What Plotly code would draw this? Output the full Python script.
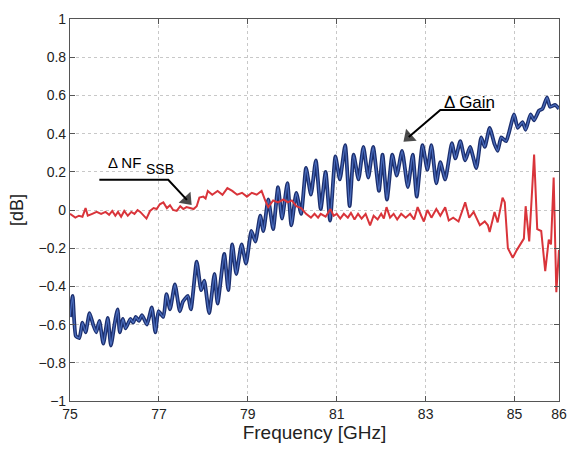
import plotly.graph_objects as go

# Delta Gain (blue) readings
gain_f = [75.00, 75.06, 75.13, 75.21, 75.28, 75.35, 75.44, 75.52, 75.59, 75.66, 75.75, 75.85, 75.92,
          76.00, 76.07, 76.12, 76.19, 76.25, 76.36, 76.42, 76.48, 76.55, 76.62, 76.73, 76.84, 76.92,
          76.99, 77.10, 77.17, 77.25, 77.36, 77.47, 77.54, 77.65, 77.72, 77.85, 77.95, 78.02, 78.13,
          78.25, 78.32, 78.47, 78.56, 78.65, 78.74, 78.86, 78.96, 79.08, 79.17, 79.28, 79.35, 79.46,
          79.57, 79.68, 79.77, 79.89, 79.98, 80.09, 80.20, 80.31, 80.42, 80.53, 80.64, 80.75, 80.85,
          80.97, 81.07, 81.19, 81.29, 81.38, 81.49, 81.60, 81.71, 81.82, 81.95, 82.03, 82.13, 82.25,
          82.35, 82.47, 82.60, 82.71, 82.80, 82.93, 83.04, 83.13, 83.24, 83.33, 83.44, 83.59, 83.67,
          83.78, 83.89, 84.00, 84.14, 84.25, 84.33, 84.44, 84.55, 84.62, 84.70, 84.81, 84.88, 84.99,
          85.07, 85.18, 85.25, 85.36, 85.44, 85.55, 85.63, 85.73, 85.80, 85.91, 86.00]
gain_db = [-0.56, -0.45, -0.66, -0.67, -0.59, -0.64, -0.54, -0.60, -0.64, -0.58, -0.70, -0.565, -0.71,
           -0.60, -0.52, -0.64, -0.57, -0.62, -0.57, -0.59, -0.56, -0.58, -0.55, -0.60, -0.51, -0.64,
           -0.53, -0.56, -0.44, -0.52, -0.39, -0.53, -0.48, -0.45, -0.52, -0.27, -0.42, -0.37, -0.54,
           -0.335, -0.49, -0.23, -0.42, -0.18, -0.335, -0.18, -0.28, -0.11, -0.165, -0.03, -0.11, 0.055,
           -0.10, 0.12, -0.045, 0.14, -0.08, 0.09, -0.02, 0.22, 0.08, 0.26, 0.005, 0.20, -0.055,
           0.28, 0.16, 0.34, 0.02, 0.29, 0.16, 0.33, 0.17, 0.33, 0.10, 0.29, 0.055, 0.29,
           0.18, 0.31, 0.12, 0.29, 0.07, 0.34, 0.21, 0.34, 0.14, 0.25, 0.16, 0.35, 0.27,
           0.36, 0.26, 0.33, 0.22, 0.38, 0.33, 0.43, 0.345, 0.31, 0.38, 0.36, 0.41, 0.50,
           0.43, 0.46, 0.42, 0.50, 0.47, 0.52, 0.53, 0.59, 0.54, 0.55, 0.53]

# Delta NF_SSB (red) readings
nf_f = [75.00, 75.05, 75.12, 75.20, 75.28, 75.35, 75.40, 75.50, 75.60, 75.70, 75.80, 75.88, 75.95,
        76.02, 76.08, 76.15, 76.22, 76.30, 76.38, 76.45, 76.52, 76.58, 76.65, 76.72, 76.80, 76.88,
        76.95, 77.02, 77.10, 77.18, 77.25, 77.32, 77.40, 77.48, 77.55, 77.62, 77.70, 77.78, 77.85,
        77.91, 78.00, 78.05, 78.10, 78.20, 78.32, 78.43, 78.54, 78.65, 78.76, 78.87, 78.98, 79.09,
        79.20, 79.31, 79.39, 79.46, 79.57, 79.68, 79.80, 79.90, 79.99, 80.09, 80.20, 80.31, 80.42,
        80.50, 80.58, 80.64, 80.75, 80.86, 80.93, 81.00, 81.08, 81.16, 81.25, 81.32, 81.40, 81.48,
        81.56, 81.65, 81.75, 81.83, 81.92, 82.00, 82.06, 82.12, 82.20, 82.28, 82.36, 82.45, 82.55,
        82.65, 82.74, 82.82, 82.90, 82.96, 83.04, 83.13, 83.24, 83.33, 83.44, 83.52, 83.62, 83.74,
        83.89, 83.98, 84.08, 84.22, 84.33, 84.40, 84.44, 84.55, 84.62, 84.73, 84.78, 84.85, 84.96,
        85.05, 85.21, 85.25, 85.33, 85.44, 85.51, 85.60, 85.69, 85.77, 85.82, 85.88, 85.94, 86.00]
nf_db = [-0.02, -0.03, -0.04, -0.03, -0.035, 0.01, -0.03, -0.02, -0.01, -0.02, -0.01, -0.025, -0.005,
         -0.03, -0.01, -0.035, -0.005, -0.03, -0.01, -0.02, 0.0, -0.01, -0.025, -0.045, -0.005, 0.01,
         0.005, 0.03, 0.04, 0.01, 0.025, 0.0, -0.005, 0.02, 0.005, 0.015, 0.01, 0.005, 0.02,
         0.065, 0.07, 0.06, 0.10, 0.08, 0.10, 0.08, 0.115, 0.10, 0.08, 0.09, 0.07, 0.09,
         0.08, 0.10, 0.05, 0.015, 0.05, 0.04, 0.055, 0.04, 0.05, 0.02, 0.01, -0.02, -0.04,
         -0.02, -0.04, -0.02, -0.035, 0.005, -0.03, -0.02, -0.045, -0.02, -0.04, -0.015, -0.05, -0.02,
         -0.045, -0.02, -0.08, -0.03, -0.05, -0.02, -0.045, 0.015, -0.04, -0.02, -0.05, -0.02, -0.04,
         -0.02, -0.05, 0.015, -0.03, -0.06, 0.0, -0.04, 0.005, -0.03, 0.015, -0.055, -0.04, -0.06,
         0.04, -0.04, -0.01, -0.08, -0.06, -0.08, -0.115, -0.01, -0.065, 0.065, 0.04, -0.20, -0.25,
         -0.21, -0.15, 0.02, -0.165, 0.29, -0.10, -0.11, -0.32, -0.155, -0.18, 0.17, -0.43, -0.21]

x_ticks = [75, 77, 79, 81, 83, 85, 86]
y_ticks = [-1, -0.8, -0.6, -0.4, -0.2, 0, 0.2, 0.4, 0.6, 0.8, 1]
y_labels = ["\u22121", "\u22120.8", "\u22120.6", "\u22120.4", "\u22120.2", "0",
            "0.2", "0.4", "0.6", "0.8", "1"]

# annotation leader paths (label -> pointed spot)
nf_leader_f = [75.66, 77.21, 77.63]
nf_leader_db = [0.158, 0.158, 0.053]
gain_leader_f = [84.46, 83.33, 82.62]
gain_leader_db = [0.524, 0.524, 0.382]

FONT = "Liberation Sans, Arial, sans-serif"
TXT = "#222"

fig = go.Figure()
fig.add_trace(go.Scatter(x=gain_f, y=gain_db, mode="lines",
                         line=dict(color="#1c2f6e", width=3.8, shape="spline", smoothing=0.5),
                         showlegend=False, hoverinfo="skip"))
fig.add_trace(go.Scatter(x=gain_f, y=gain_db, mode="lines",
                         line=dict(color="#4a6cbc", width=1.3, shape="spline", smoothing=0.5),
                         showlegend=False))
fig.add_trace(go.Scatter(x=nf_f, y=nf_db, mode="lines",
                         line=dict(color="#d9343a", width=2),
                         showlegend=False))

for lf, ld in [(nf_leader_f, nf_leader_db), (gain_leader_f, gain_leader_db)]:
    fig.add_trace(go.Scatter(x=lf, y=ld, mode="lines+markers",
                             line=dict(color="black", width=2),
                             marker=dict(symbol=["circle", "circle", "triangle-up"], size=[0, 0, 14],
                                         angleref="previous", color="black",
                                         line=dict(width=0)),
                             showlegend=False, hoverinfo="skip"))

axis_common = dict(showline=True, linecolor="#555", linewidth=1.2, mirror="ticks",
                   ticks="inside", ticklen=5, tickcolor="#555",
                   showgrid=True, gridcolor="#c8c8c8", griddash="dot", gridwidth=1,
                   zeroline=False, tickfont=dict(family=FONT, size=14, color=TXT))

fig.update_xaxes(range=[75, 86], tickvals=x_ticks, ticktext=[str(t) for t in x_ticks],
                 title=dict(text="Frequency [GHz]", font=dict(family=FONT, size=19, color=TXT),
                            standoff=4),
                 **axis_common)
fig.update_yaxes(range=[-1, 1], tickvals=y_ticks, ticktext=y_labels,
                 title=dict(text="[dB]", font=dict(family=FONT, size=18, color=TXT), standoff=10),
                 **axis_common)

fig.add_annotation(x=76.637, y=0.247, xref="x", yref="y", showarrow=False, xanchor="right",
                   text="\u0394 NF", font=dict(family=FONT, size=15, color="black"))
fig.add_annotation(x=76.66, y=0.215, xref="x", yref="y", showarrow=False, xanchor="left",
                   text="SSB", font=dict(family=FONT, size=14, color="black"))
fig.add_annotation(x=83.99, y=0.565, xref="x", yref="y", showarrow=False,
                   text="\u0394 Gain", font=dict(family=FONT, size=17, color="black"))

fig.update_layout(width=578, height=450, margin=dict(l=70, r=11, t=15, b=43),
                  paper_bgcolor="white", plot_bgcolor="white")

fig.write_html("out.html")
